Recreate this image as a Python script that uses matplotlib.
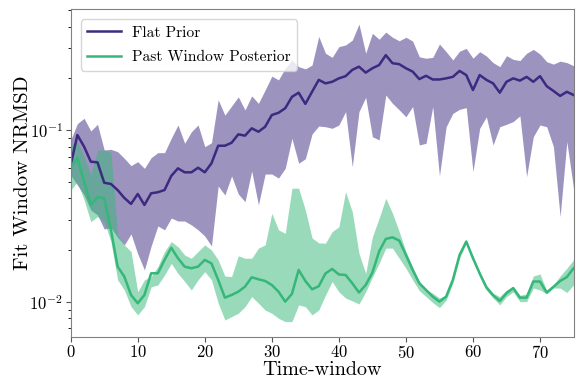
import matplotlib
matplotlib.use("Agg")
import matplotlib.pyplot as plt
import numpy as np

plt.rcParams['font.family'] = 'cmr10'
plt.rcParams['mathtext.fontset'] = 'cm'
plt.rcParams['axes.formatter.use_mathtext'] = True

# time windows 0..75
windows = list(range(76))

# Flat Prior: median and band
flat_mid = [0.0625, 0.0935, 0.080, 0.0654, 0.0648, 0.0493, 0.0485, 0.0447, 0.0402, 0.0371,
            0.0424, 0.0366, 0.0428, 0.0434, 0.0447, 0.054, 0.0598, 0.0567, 0.0567, 0.0603,
            0.0567, 0.064, 0.081, 0.081, 0.0843, 0.0944, 0.0927, 0.1023, 0.0977, 0.1045,
            0.1223, 0.126, 0.134, 0.156, 0.165, 0.142, 0.167, 0.196, 0.187, 0.191,
            0.200, 0.206, 0.224, 0.234, 0.216, 0.229, 0.239, 0.273, 0.245, 0.242,
            0.229, 0.219, 0.198, 0.207, 0.197, 0.197, 0.200, 0.204, 0.221, 0.209,
            0.171, 0.209, 0.196, 0.187, 0.165, 0.191, 0.200, 0.194, 0.204, 0.191,
            0.206, 0.180, 0.169, 0.158, 0.167, 0.160]
flat_hi = [0.0875, 0.109, 0.117, 0.0987, 0.108, 0.0765, 0.0772, 0.0748, 0.0684, 0.062,
           0.0654, 0.0598, 0.069, 0.0738, 0.0738, 0.0895, 0.107, 0.0837, 0.0977, 0.107,
           0.080, 0.0843, 0.150, 0.122, 0.138, 0.156, 0.131, 0.158, 0.143, 0.171,
           0.206, 0.196, 0.229, 0.256, 0.234, 0.227, 0.239, 0.351, 0.280, 0.265,
           0.306, 0.313, 0.334, 0.414, 0.280, 0.366, 0.338, 0.372, 0.347, 0.331,
           0.347, 0.330, 0.267, 0.262, 0.265, 0.317, 0.286, 0.256, 0.288, 0.299,
           0.262, 0.286, 0.270, 0.247, 0.234, 0.271, 0.258, 0.254, 0.280, 0.295,
           0.277, 0.250, 0.242, 0.252, 0.247, 0.237]
flat_lo = [0.0547, 0.0478, 0.0418, 0.0342, 0.032, 0.0265, 0.027, 0.0237, 0.0214, 0.0248,
           0.019, 0.0153, 0.0211, 0.0276, 0.0262, 0.0307, 0.0295, 0.0295, 0.028, 0.0262,
           0.0241, 0.0211, 0.0472, 0.0418, 0.054, 0.0424, 0.0382, 0.0577, 0.0366, 0.0554,
           0.0554, 0.0525, 0.0598, 0.0895, 0.064, 0.068, 0.0948, 0.1055, 0.1045, 0.1023,
           0.107, 0.128, 0.0611, 0.128, 0.155, 0.0914, 0.0875, 0.160, 0.143, 0.131,
           0.1195, 0.137, 0.0818, 0.0837, 0.137, 0.054, 0.1045, 0.125, 0.132, 0.135,
           0.0572, 0.1023, 0.1195, 0.0818, 0.1045, 0.108, 0.112, 0.121, 0.0535, 0.0914,
           0.107, 0.1045, 0.080, 0.0313, 0.0855, 0.0458]

# Past Window Posterior: median and band
past_mid = [0.0611, 0.0684, 0.050, 0.0366, 0.0406, 0.040, 0.0262, 0.016, 0.014, 0.01094,
            0.00979, 0.01094, 0.01463, 0.01463, 0.0175, 0.0206, 0.0179, 0.016, 0.01565, 0.016,
            0.0175, 0.0167, 0.0134, 0.01055, 0.01094, 0.01143, 0.01223, 0.01387, 0.0135, 0.0132,
            0.0125, 0.01143, 0.0100, 0.0111, 0.0153, 0.0132, 0.0118, 0.0123, 0.0146, 0.0155,
            0.0144, 0.0143, 0.0128, 0.0113, 0.0125, 0.01475, 0.0196, 0.0232, 0.0237, 0.0227,
            0.0187, 0.0153, 0.0128, 0.0117, 0.0107, 0.0100, 0.0107, 0.0134, 0.0187, 0.0224,
            0.0179, 0.0146, 0.0121, 0.0109, 0.0101, 0.0112, 0.0120, 0.01055, 0.01055, 0.0131,
            0.0131, 0.0113, 0.0122, 0.0132, 0.0139, 0.01565]
past_hi = [0.0818, 0.0855, 0.0699, 0.0547, 0.0765, 0.0765, 0.0745, 0.0245, 0.0214, 0.0196,
           0.01143, 0.0134, 0.0140, 0.016, 0.0196, 0.0224, 0.0209, 0.0187, 0.0179, 0.0196,
           0.0214, 0.020, 0.0175, 0.0141, 0.0140, 0.0185, 0.0179, 0.0179, 0.0205, 0.0214,
           0.0327, 0.0262, 0.025, 0.0458, 0.0458, 0.0342, 0.0235, 0.022, 0.0219, 0.0256,
           0.0273, 0.0437, 0.0334, 0.0191, 0.0146, 0.0239, 0.0306, 0.040, 0.0327, 0.0256,
           0.0196, 0.016, 0.0131, 0.0117, 0.0112, 0.0105, 0.0109, 0.0137, 0.0191, 0.0227,
           0.0185, 0.01495, 0.0125, 0.0112, 0.0107, 0.0117, 0.01223, 0.0109, 0.0111, 0.0141,
           0.0145, 0.0116, 0.0125, 0.0141, 0.01565, 0.0175]
past_lo = [0.0447, 0.050, 0.0391, 0.0292, 0.0313, 0.0292, 0.0224, 0.0134, 0.0117, 0.00935,
           0.00837, 0.00935, 0.0122, 0.0125, 0.0143, 0.0167, 0.0146, 0.0131, 0.0117, 0.0134,
           0.01495, 0.0134, 0.0098, 0.00782, 0.00818, 0.00856, 0.00935, 0.0107, 0.0098, 0.00894,
           0.00856, 0.0080, 0.00765, 0.00765, 0.00957, 0.00935, 0.00837, 0.00894, 0.0109, 0.0131,
           0.0114, 0.0105, 0.0101, 0.0097, 0.0114, 0.0139, 0.0167, 0.0205, 0.0205, 0.0179,
           0.01565, 0.0134, 0.0116, 0.0107, 0.00987, 0.00923, 0.0102, 0.0128, 0.0179, 0.0219,
           0.0175, 0.0141, 0.0117, 0.0105, 0.00957, 0.0107, 0.0114, 0.0100, 0.0100, 0.0120,
           0.0117, 0.0111, 0.0120, 0.0120, 0.0113, 0.0125]

purple = '#3b2a80'
green = '#35b779'

fig = plt.figure(figsize=(5.77, 3.80), dpi=100)
ax = fig.add_axes([0.1225, 0.114, 0.8715, 0.8615])

ax.fill_between(windows, flat_lo, flat_hi, color=purple, alpha=0.5, linewidth=0)
ax.plot(windows, flat_mid, color=purple, lw=1.8, label='Flat Prior')
ax.fill_between(windows, past_lo, past_hi, color=green, alpha=0.5, linewidth=0)
ax.plot(windows, past_mid, color=green, lw=1.8, label='Past Window Posterior')

ax.set_yscale('log')
ax.set_xlim(0, 75)
ax.set_ylim(0.00625, 0.505)
ax.set_xticks([0, 10, 20, 30, 40, 50, 60, 70])
ax.tick_params(labelsize=12, colors='#555555', labelcolor='black', pad=2)
for s in ax.spines.values():
    s.set_color('#808080')

ax.set_xlabel('Time-window', fontsize=14.5, labelpad=0)
ax.set_ylabel('Fit Window NRMSD', fontsize=15, labelpad=-2)
ax.legend(loc='upper left', fontsize=11.2, handlelength=2.2, handletextpad=0.7,
          labelspacing=0.7, borderaxespad=0.65)

fig.savefig('out.png', dpi=100)
